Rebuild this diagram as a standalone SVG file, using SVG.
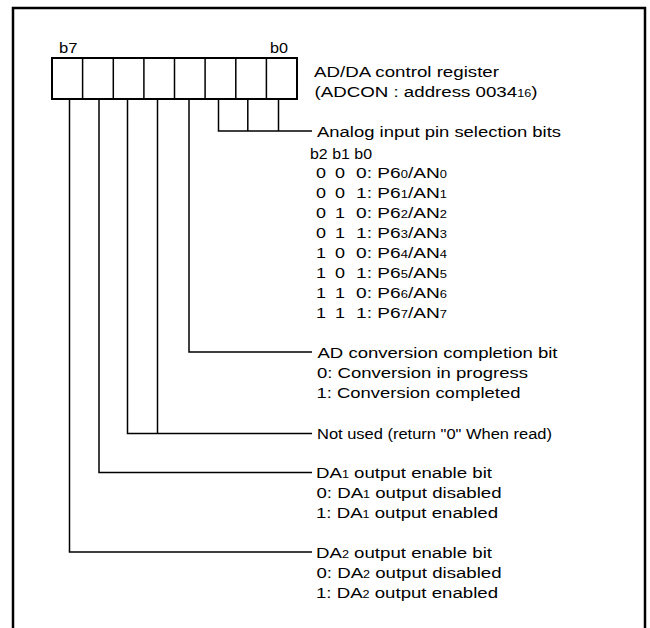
<svg xmlns="http://www.w3.org/2000/svg" width="650" height="628" viewBox="0 0 650 628">
<style>
text{font-family:"Liberation Sans",Arial,sans-serif;font-size:15.5px;fill:#000}
.s{font-size:14px}
.sub{font-size:10.5px}
.ln{fill:none;stroke:#000;stroke-width:1.5}
.box{fill:#fff;stroke:#000;stroke-width:2}
</style>
<rect width="650" height="628" fill="#fff"/>
<path d="M13 628 V8 H645 V628" fill="none" stroke="#000" stroke-width="2.5"/>
<g id="register">
<rect class="box" x="52" y="58" width="245" height="41"/>
<path class="ln" d="M82.6 58V99M113.3 58V99M143.9 58V99M174.5 58V99M205.1 58V99M235.8 58V99M266.4 58V99" stroke-width="2"/>
<text class="s" x="59" y="53" textLength="18.5" lengthAdjust="spacingAndGlyphs">b7</text>
<text class="s" x="270" y="53" textLength="18" lengthAdjust="spacingAndGlyphs">b0</text>
<text x="314" y="77" textLength="185" lengthAdjust="spacingAndGlyphs">AD/DA control register</text>
<text x="314.5" y="97" textLength="223" lengthAdjust="spacingAndGlyphs">(ADCON : address 0034<tspan class="sub">16</tspan>)</text>
</g>
<g id="connectors">
<path class="ln" d="M218.5 99V131H312M247.8 99V131M278.5 99V131"/>
<path class="ln" d="M189 99V352H312"/>
<path class="ln" d="M157.5 99V433.5H312M127.5 99V433.5H157.5"/>
<path class="ln" d="M99 99V472.5H312"/>
<path class="ln" d="M69.5 99V552H312"/>
</g>
<g id="analog">
<text x="317" y="136.5" textLength="244" lengthAdjust="spacingAndGlyphs">Analog input pin selection bits</text>
<text class="s" x="310" y="158.5" textLength="62" lengthAdjust="spacingAndGlyphs">b2 b1 b0</text>
<g id="rows">
<text x="316" y="178" textLength="10" lengthAdjust="spacingAndGlyphs">0</text><text x="335" y="178" textLength="10" lengthAdjust="spacingAndGlyphs">0</text><text x="356" y="178" textLength="91" lengthAdjust="spacingAndGlyphs">0: P6<tspan class="sub">0</tspan>/AN<tspan class="sub">0</tspan></text>
<text x="316" y="198" textLength="10" lengthAdjust="spacingAndGlyphs">0</text><text x="335" y="198" textLength="10" lengthAdjust="spacingAndGlyphs">0</text><text x="356" y="198" textLength="91" lengthAdjust="spacingAndGlyphs">1: P6<tspan class="sub">1</tspan>/AN<tspan class="sub">1</tspan></text>
<text x="316" y="218" textLength="10" lengthAdjust="spacingAndGlyphs">0</text><text x="335" y="218" textLength="10" lengthAdjust="spacingAndGlyphs">1</text><text x="356" y="218" textLength="91" lengthAdjust="spacingAndGlyphs">0: P6<tspan class="sub">2</tspan>/AN<tspan class="sub">2</tspan></text>
<text x="316" y="238" textLength="10" lengthAdjust="spacingAndGlyphs">0</text><text x="335" y="238" textLength="10" lengthAdjust="spacingAndGlyphs">1</text><text x="356" y="238" textLength="91" lengthAdjust="spacingAndGlyphs">1: P6<tspan class="sub">3</tspan>/AN<tspan class="sub">3</tspan></text>
<text x="316" y="258" textLength="10" lengthAdjust="spacingAndGlyphs">1</text><text x="335" y="258" textLength="10" lengthAdjust="spacingAndGlyphs">0</text><text x="356" y="258" textLength="91" lengthAdjust="spacingAndGlyphs">0: P6<tspan class="sub">4</tspan>/AN<tspan class="sub">4</tspan></text>
<text x="316" y="278" textLength="10" lengthAdjust="spacingAndGlyphs">1</text><text x="335" y="278" textLength="10" lengthAdjust="spacingAndGlyphs">0</text><text x="356" y="278" textLength="91" lengthAdjust="spacingAndGlyphs">1: P6<tspan class="sub">5</tspan>/AN<tspan class="sub">5</tspan></text>
<text x="316" y="298" textLength="10" lengthAdjust="spacingAndGlyphs">1</text><text x="335" y="298" textLength="10" lengthAdjust="spacingAndGlyphs">1</text><text x="356" y="298" textLength="91" lengthAdjust="spacingAndGlyphs">0: P6<tspan class="sub">6</tspan>/AN<tspan class="sub">6</tspan></text>
<text x="316" y="318" textLength="10" lengthAdjust="spacingAndGlyphs">1</text><text x="335" y="318" textLength="10" lengthAdjust="spacingAndGlyphs">1</text><text x="356" y="318" textLength="91" lengthAdjust="spacingAndGlyphs">1: P6<tspan class="sub">7</tspan>/AN<tspan class="sub">7</tspan></text>
</g>
</g>
<g id="adc">
<text x="317.5" y="357.5" textLength="240" lengthAdjust="spacingAndGlyphs">AD conversion completion bit</text>
<text x="317" y="377.5" textLength="211" lengthAdjust="spacingAndGlyphs">0: Conversion in progress</text>
<text x="316.5" y="397.5" textLength="204" lengthAdjust="spacingAndGlyphs">1: Conversion completed</text>
</g>
<g id="notused">
<text x="317" y="439" textLength="235" lengthAdjust="spacingAndGlyphs">Not used (return "0" When read)</text>
</g>
<g id="da1">
<text x="316" y="478" textLength="176" lengthAdjust="spacingAndGlyphs">DA<tspan class="sub">1</tspan> output enable bit</text>
<text x="316.5" y="498" textLength="185" lengthAdjust="spacingAndGlyphs">0: DA<tspan class="sub">1</tspan> output disabled</text>
<text x="316" y="518" textLength="182" lengthAdjust="spacingAndGlyphs">1: DA<tspan class="sub">1</tspan> output enabled</text>
</g>
<g id="da2">
<text x="316" y="557.5" textLength="176" lengthAdjust="spacingAndGlyphs">DA<tspan class="sub">2</tspan> output enable bit</text>
<text x="316.5" y="577.5" textLength="185" lengthAdjust="spacingAndGlyphs">0: DA<tspan class="sub">2</tspan> output disabled</text>
<text x="316" y="597.5" textLength="182" lengthAdjust="spacingAndGlyphs">1: DA<tspan class="sub">2</tspan> output enabled</text>
</g>
</svg>
